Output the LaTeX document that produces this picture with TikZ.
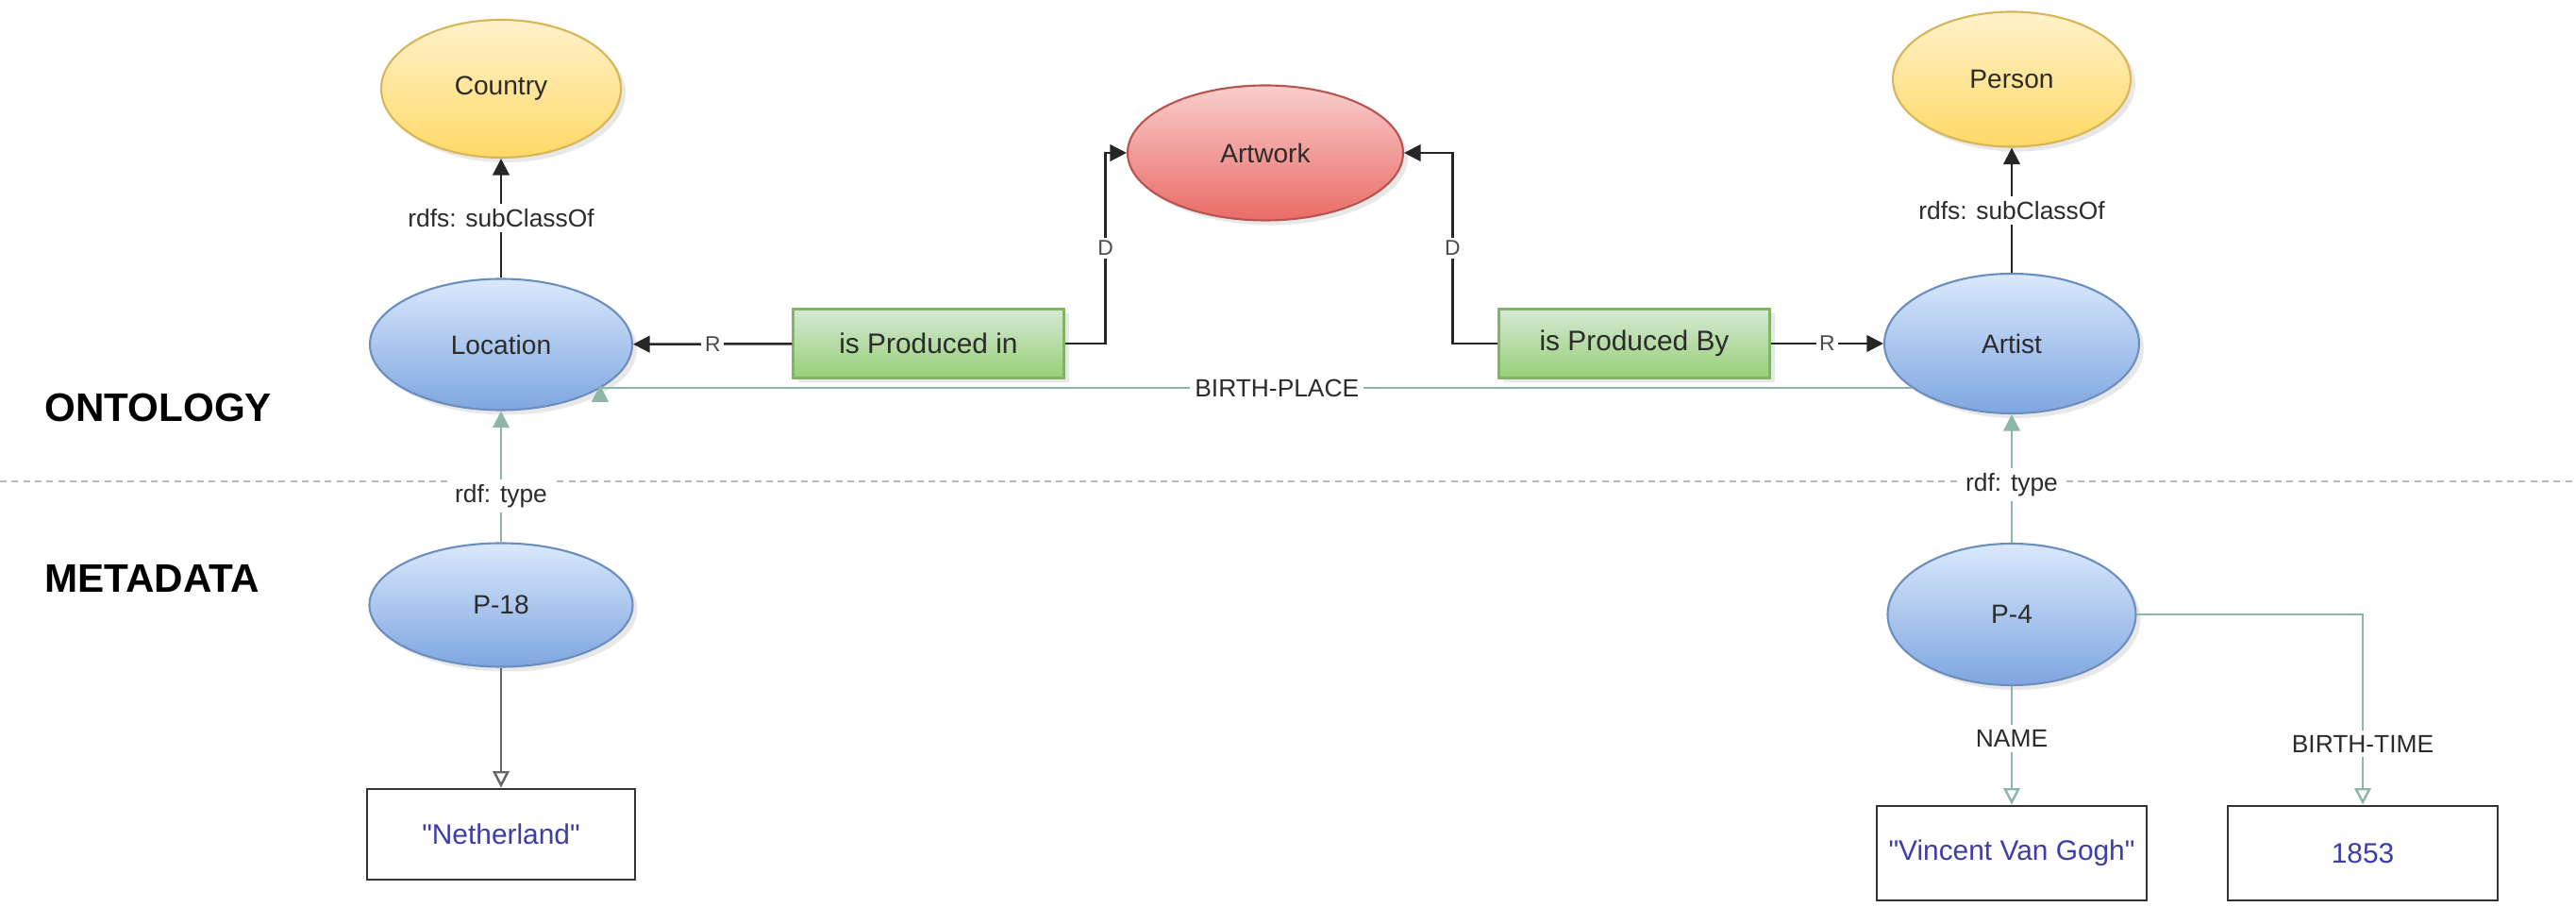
\documentclass[tikz,border=0pt]{standalone}
\usepackage{fontspec}
\setmainfont{Liberation Sans}
\usepackage{xcolor}
\usepackage{tikz}
\usetikzlibrary{arrows.meta,shapes.geometric,shadows}
\definecolor{OntBlueTop}{HTML}{DAE8FC}
\definecolor{OntBlueBot}{HTML}{7EA6E0}
\definecolor{OntBlueLine}{HTML}{6C8EBF}
\definecolor{OntYellowTop}{HTML}{FFF2CC}
\definecolor{OntYellowBot}{HTML}{FFD966}
\definecolor{OntYellowLine}{HTML}{D6B656}
\definecolor{OntRedTop}{HTML}{F8CECC}
\definecolor{OntRedBot}{HTML}{EA6B66}
\definecolor{OntRedLine}{HTML}{B85450}
\definecolor{OntGreenTop}{HTML}{D5E8D4}
\definecolor{OntGreenBot}{HTML}{97D077}
\definecolor{OntGreenLine}{HTML}{82B366}
\definecolor{OntTeal}{HTML}{8DB6A6}
\definecolor{OntText}{HTML}{2B2B2B}
\definecolor{OntLiteral}{HTML}{3D3DA8}
\definecolor{OntSep}{HTML}{B8B8B8}

\begin{document}
\begin{tikzpicture}[x=1cm,y=1cm,
  concept/.style={ellipse,inner sep=0pt,line width=0.6pt,text=OntText,
    font=\fontsize{8}{10}\selectfont,
    drop shadow={shadow xshift=0.05cm,shadow yshift=-0.05cm,opacity=0.18}},
  blueconcept/.style={concept,draw=OntBlueLine,top color=OntBlueTop,bottom color=OntBlueBot},
  yellowconcept/.style={concept,draw=OntYellowLine,top color=OntYellowTop,bottom color=OntYellowBot},
  redconcept/.style={concept,draw=OntRedLine,top color=OntRedTop,bottom color=OntRedBot},
  relbox/.style={rectangle,draw=OntGreenLine,line width=0.6pt,top color=OntGreenTop,
    bottom color=OntGreenBot,minimum width=2.87cm,minimum height=0.73cm,text=OntText,
    font=\fontsize{8.5}{10}\selectfont,
    drop shadow={shadow xshift=0.05cm,shadow yshift=-0.05cm,opacity=0.18}},
  litbox/.style={rectangle,draw=black!80,line width=0.8pt,fill=white,minimum width=2.86cm,
    minimum height=1.0cm,text=OntLiteral,font=\fontsize{8.5}{10}\selectfont},
  layer/.style={anchor=west,font=\fontsize{12}{14}\selectfont\bfseries},
  lbl/.style={fill=white,inner sep=1.5pt,text=OntText,font=\fontsize{7.5}{9}\selectfont},
  tinylbl/.style={fill=white,inner sep=1pt,text=black!70,font=\fontsize{6.5}{8}\selectfont},
  blackarrow/.style={draw=black!85,line width=0.7pt,-{Triangle[length=5pt,width=5pt]}},
  tealarrow/.style={draw=OntTeal,line width=0.7pt,-{Triangle[length=5pt,width=5pt]}},
  tealopen/.style={draw=OntTeal,line width=0.7pt,-{Triangle[open,length=5pt,width=5pt]}},
  grayarrow/.style={draw=black!60,line width=0.7pt,-{Triangle[open,length=5pt,width=5pt]}}]
\path[use as bounding box] (0,0) rectangle (27.30,9.61);

% layer labels and separator
\node[layer] (ontlabel) at (0.35,5.29) {ONTOLOGY};
\node[layer] (metalabel) at (0.35,3.48) {METADATA};
\draw[OntSep,line width=0.6pt,dash pattern=on 2pt off 1.5pt] (0,4.51) -- (27.30,4.51);

% ontology
\node[yellowconcept,minimum width=2.54cm,minimum height=1.46cm] (country) at (5.31,8.67) {Country};
\node[yellowconcept,minimum width=2.52cm,minimum height=1.43cm] (person) at (21.32,8.77) {Person};
\node[redconcept,minimum width=2.92cm,minimum height=1.43cm] (artwork) at (13.41,7.99) {Artwork};
\node[blueconcept,minimum width=2.78cm,minimum height=1.39cm] (loc) at (5.31,5.96) {Location};
\node[blueconcept,minimum width=2.70cm,minimum height=1.48cm] (artist) at (21.32,5.97) {Artist};
\node[relbox] (prodin) at (9.84,5.97) {is Produced in};
\node[relbox] (prodby) at (17.32,5.97) {is Produced By};

% metadata
\node[blueconcept,minimum width=2.79cm,minimum height=1.31cm] (p18) at (5.31,3.20) {P-18};
\node[blueconcept,minimum width=2.63cm,minimum height=1.50cm] (p4) at (21.32,3.10) {P-4};
\node[litbox,minimum width=2.84cm,minimum height=0.96cm] (neth) at (5.31,0.77) {\textquotedbl Netherland\textquotedbl};
\node[litbox] (vvg) at (21.32,0.57) {\textquotedbl Vincent Van Gogh\textquotedbl};
\node[litbox] (year) at (25.04,0.57) {1853};

% edges
\draw[blackarrow] (loc) -- node[lbl]{rdfs: subClassOf} (country);
\draw[blackarrow] (artist) -- node[lbl]{rdfs: subClassOf} (person);
\draw[blackarrow] (prodin) -- node[tinylbl]{R} (loc);
\draw[blackarrow] (prodby) -- node[tinylbl]{R} (artist);
\draw[blackarrow] (prodin.east) -- ++(0.43,0) |- node[tinylbl,pos=0.25]{D} (artwork.west);
\draw[blackarrow] (prodby.west) -- ++(-0.48,0) |- node[tinylbl,pos=0.25]{D} (artwork.east);
\draw[tealarrow] (artist.204) -| node[lbl,pos=0.242]{BIRTH-PLACE} ([yshift=1pt]loc.336);
\draw[tealarrow] (p18) -- node[lbl,pos=0.35]{rdf: type} (loc);
\draw[tealarrow] (p4) -- node[lbl,pos=0.45]{rdf: type} (artist);
\draw[grayarrow] (p18) -- (neth);
\draw[tealopen] (p4) -- node[lbl,pos=0.44]{NAME} (vvg);
\draw[tealopen] (p4.east) -| node[lbl,pos=0.84]{BIRTH-TIME} (year);
\end{tikzpicture}
\end{document}
